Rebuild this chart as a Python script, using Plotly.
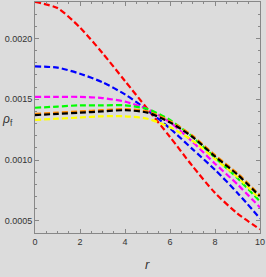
import plotly.graph_objects as go

r = [0, 1, 2, 3, 4, 5, 6, 7, 8, 9, 10]

rho_red = [0.00230, 0.00225, 0.00209, 0.00188, 0.00165, 0.00142, 0.00119, 0.00095, 0.00073, 0.00056, 0.00043]
rho_blue = [0.00177, 0.00176, 0.00171, 0.00164, 0.00154, 0.00141, 0.00126, 0.00109, 0.00092, 0.00073, 0.00052]
rho_magenta = [0.00152, 0.00152, 0.00152, 0.00151, 0.00148, 0.00142, 0.00131, 0.00115, 0.00097, 0.00080, 0.00061]
rho_green = [0.00143, 0.00144, 0.00145, 0.00145, 0.00145, 0.00142, 0.00133, 0.00119, 0.00102, 0.00085, 0.00066]
rho_orange = [0.00138, 0.00139, 0.00140, 0.00141, 0.00142, 0.00140, 0.00132, 0.00120, 0.00104, 0.00089, 0.00071]
rho_black = [0.00137, 0.00138, 0.00139, 0.00140, 0.00141, 0.00139, 0.00131, 0.00119, 0.00103, 0.00088, 0.00070]
rho_yellow = [0.00133, 0.00134, 0.00135, 0.00136, 0.00136, 0.00134, 0.00127, 0.00116, 0.00101, 0.00086, 0.00068]

series = [
    ("red", rho_red),
    ("blue", rho_blue),
    ("magenta", rho_magenta),
    ("#00ff00", rho_green),
    ("#ffff00", rho_yellow),
    ("#ff8c00", rho_orange),
    ("black", rho_black),
]

x_ticks = [0, 2, 4, 6, 8, 10]
y_ticks = [0.0005, 0.0010, 0.0015, 0.0020]

fig = go.Figure()
for color, vals in series:
    fig.add_trace(go.Scatter(
        x=r, y=vals, mode="lines", line_shape="spline",
        line=dict(color=color, width=2.2, dash="6px,3px", smoothing=0.7),
        showlegend=False, hoverinfo="skip",
    ))

axis_common = dict(
    showgrid=False, zeroline=False, showline=True, linecolor="#888888", linewidth=1,
    mirror="ticks", ticks="inside", ticklen=4, tickcolor="#888888",
    ticklabeloverflow="allow",
    tickfont=dict(family="Liberation Sans Narrow, Liberation Sans, Arial", size=9, color="#333333"),
)

fig.update_layout(
    width=266, height=277,
    margin=dict(l=35, r=4, t=1, b=44),
    paper_bgcolor="#dcdcdc", plot_bgcolor="#dcdcdc",
    xaxis=dict(range=[0, 10], tickvals=x_ticks, ticktext=[str(v) for v in x_ticks],
               minor=dict(dtick=0.5, ticks="inside", ticklen=2, tickcolor="#888888"),
               **axis_common),
    yaxis=dict(range=[0.0004, 0.0023], tickvals=y_ticks, ticktext=["%.4f" % v for v in y_ticks],
               minor=dict(dtick=0.0001, ticks="inside", ticklen=2, tickcolor="#888888"),
               **axis_common),
    annotations=[
        dict(text="<i>r</i>", x=0.5, y=-0.135, xref="paper", yref="paper", showarrow=False,
             yanchor="middle", font=dict(family="Liberation Sans", size=13, color="#333333")),
        dict(text="<i>ρ</i><sub>f</sub>", x=-0.155, y=0.49, xref="paper", yref="paper", showarrow=False,
             yanchor="middle", font=dict(family="Liberation Sans", size=12, color="#333333"), xanchor="left"),
    ],
)

fig.write_html("out.html", config={"displayModeBar": False},
               post_script="document.body.style.margin='0';document.body.style.background='#dcdcdc';")
